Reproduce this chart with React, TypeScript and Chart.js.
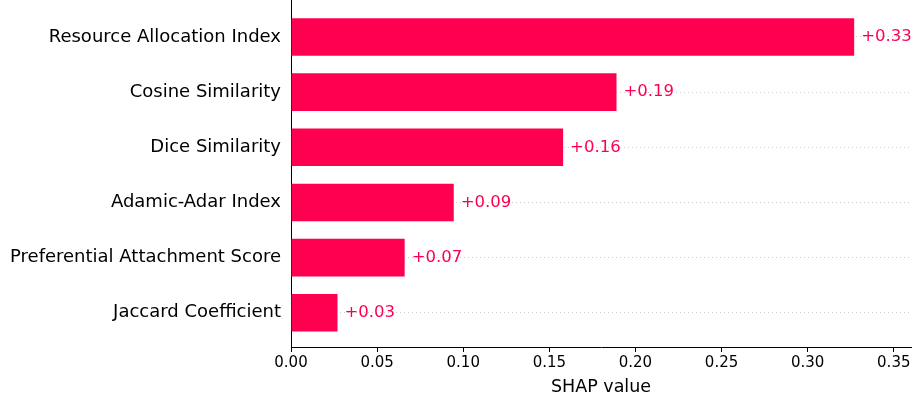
import React, { useEffect, useRef } from "react";
import { Chart, registerables } from "chart.js";

Chart.register(...registerables);

const features = [
  "Resource Allocation Index",
  "Cosine Similarity",
  "Dice Similarity",
  "Adamic-Adar Index",
  "Preferential Attachment Score",
  "Jaccard Coefficient",
];
const shapValues = [0.327, 0.189, 0.158, 0.0945, 0.066, 0.027];
const xTicks = [0, 0.05, 0.1, 0.15, 0.2, 0.25, 0.3, 0.35];

const RED = "#ff0051";
const FONT = "'DejaVu Sans', sans-serif";

const valueLabels = {
  id: "valueLabels",
  afterDatasetsDraw(chart: any) {
    const ctx = chart.ctx;
    const meta = chart.getDatasetMeta(0);
    ctx.save();
    ctx.font = `16.5px ${FONT}`;
    ctx.fillStyle = RED;
    ctx.textAlign = "left";
    ctx.textBaseline = "middle";
    meta.data.forEach((bar: any, i: number) => {
      const v = shapValues[i];
      ctx.fillText((v >= 0 ? "+" : "") + v.toFixed(2), bar.x + 7, bar.y);
    });
    ctx.restore();
  },
};

export default function App() {
  const ref = useRef<HTMLCanvasElement>(null);
  useEffect(() => {
    if (!ref.current) return;
    const chart = new Chart(ref.current, {
      type: "bar",
      data: {
        datasets: [
          {
            data: shapValues.map((v, i) => ({ x: v, y: i })),
            backgroundColor: RED,
            borderWidth: 0,
            barPercentage: 0.68,
            categoryPercentage: 1,
          },
        ],
      },
      plugins: [valueLabels],
      options: {
        indexAxis: "y",
        animation: false,
        responsive: false,
        layout: { padding: { top: 0, right: 13, left: 0, bottom: 0 } },
        plugins: { legend: { display: false }, tooltip: { enabled: false } },
        scales: {
          x: {
            type: "linear",
            min: 0,
            max: 0.36,
            offset: false,
            afterBuildTicks: (s: any) => {
              s.ticks = xTicks.map((v) => ({ value: v }));
            },
            afterFit: (s: any) => {
              s.height = 52;
              s.paddingLeft = 0;
              s.paddingRight = 0;
            },
            ticks: {
              color: "#000",
              font: { family: FONT, size: 15 },
              padding: 2,
              maxRotation: 0,
              callback: (v: any) => Number(v).toFixed(2),
            },
            grid: {
              display: true,
              offset: false,
              drawOnChartArea: false,
              drawTicks: true,
              tickLength: 5,
              color: "#000",
            },
            border: { display: true, color: "#000", width: 1 },
            title: {
              display: true,
              text: "SHAP value",
              color: "#000",
              font: { family: FONT, size: 17.5 },
              padding: { top: 2, bottom: 1 },
            },
          },
          y: {
            type: "linear",
            reverse: true,
            offset: false,
            min: -0.67,
            max: 5.62,
            afterBuildTicks: (s: any) => {
              s.ticks = features.map((_, i) => ({ value: i }));
            },
            afterFit: (s: any) => {
              s.width = 291;
              s.paddingTop = 0;
              s.paddingBottom = 0;
            },
            ticks: {
              color: "#000",
              font: { family: FONT, size: 18 },
              padding: 10,
              callback: (v: any) => features[Number(v)] ?? "",
            },
            grid: {
              display: true,
              offset: false,
              drawOnChartArea: true,
              drawTicks: false,
              color: "#cccccc",
              lineWidth: 1,
            },
            border: { display: true, color: "#000", width: 1, dash: [1, 3] },
          },
        },
      },
    });
    return () => chart.destroy();
  }, []);
  return (
    <div style={{ position: "fixed", left: 0, top: 0, width: 924, height: 399, background: "#fff" }}>
      <canvas ref={ref} width={924} height={399} style={{ width: 924, height: 399 }} />
    </div>
  );
}
